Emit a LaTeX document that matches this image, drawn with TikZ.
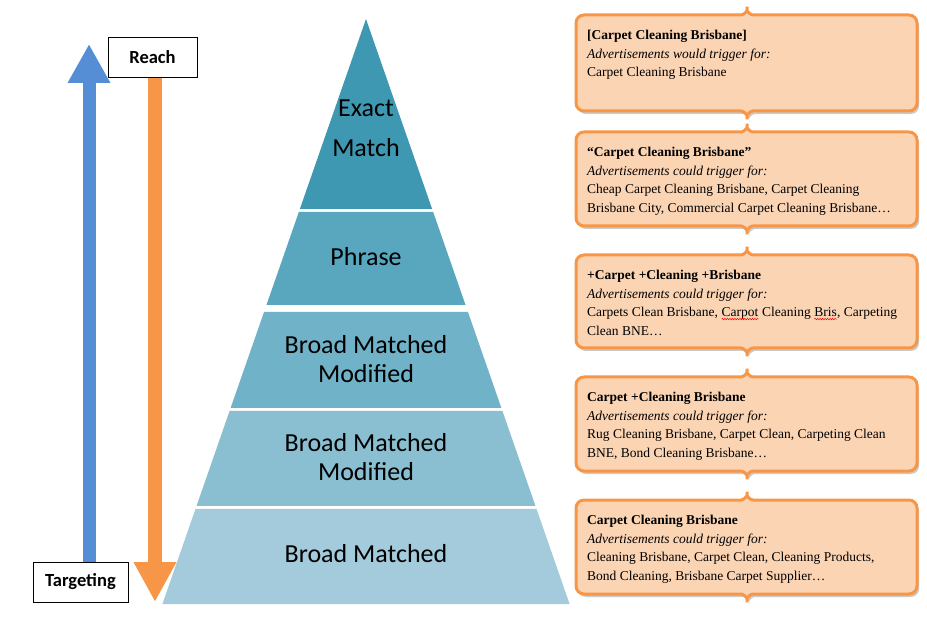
\documentclass[tikz,border=0pt]{standalone}
\usepackage{fontspec}
\setmainfont{Liberation Serif}
\newfontfamily\labelfont{Carlito}
\usetikzlibrary{arrows.meta,calc,shadows,backgrounds,decorations.pathmorphing}

\definecolor{lvlone}{HTML}{3F98B1}
\definecolor{lvltwo}{HTML}{58A7BF}
\definecolor{lvlthree}{HTML}{70B3C9}
\definecolor{lvlfour}{HTML}{8ABFD1}
\definecolor{lvlfive}{HTML}{A4CBDB}
\definecolor{boxline}{HTML}{F79646}
\definecolor{boxfill}{HTML}{FBD4B4}
\definecolor{reachblue}{HTML}{558ED5}

% red spell-check squiggle under a word
\newcommand\spellerr[1]{\tikz[baseline=(sw.base)]{\node[inner sep=0pt, outer sep=0pt, anchor=base] (sw) at (0,0) {#1};
  \draw[red, line width=0.5pt, decorate, decoration={snake, amplitude=0.7pt, segment length=2.5pt}]
    ([yshift=-2.5pt]sw.base west) -- ([yshift=-2.5pt]sw.base east);}}

\tikzset{
  layer/.style={fill=#1, draw=none},
  kwbox/.style={draw=boxline, line width=3pt, fill=boxfill, rounded corners=8pt,
    drop shadow={shadow xshift=2pt, shadow yshift=-3pt, opacity=0.35, fill=black!60}},
  kwtext/.style={anchor=north west, inner sep=0pt, align=left,
    font=\fontsize{13.5}{18.5}\selectfont},
  lbl/.style={font=\labelfont\fontsize{26}{29}\selectfont, align=center, inner sep=0pt},
  tag/.style={draw, thin, fill=white, inner sep=0pt, minimum height=40pt,
    font=\labelfont\bfseries\fontsize{18.5}{22}\selectfont},
}

\begin{document}
\begin{tikzpicture}[x=1pt, y=-1pt]
  \useasboundingbox (0,0) rectangle (927,620);
  % pyramid
  \coordinate (apex) at (366,19);
  \coordinate (bl) at (162.4,604);
  \coordinate (br) at (569.6,604);
  \foreach \t/\b/\c in {19/209/lvlone, 212/305/lvltwo, 312/408/lvlthree, 411/506/lvlfour, 509/604/lvlfive} {
    \pgfmathsetmacro\ft{(\t-19)/585}
    \pgfmathsetmacro\fb{(\b-19)/585}
    \fill[layer=\c] ($(apex)!\ft!(bl)$) -- ($(apex)!\fb!(bl)$) -- ($(apex)!\fb!(br)$) -- ($(apex)!\ft!(br)$) -- cycle;
  }
  \node[lbl, font=\labelfont\fontsize{26}{40}\selectfont] (exact) at (366,128) {Exact\\Match};
  \node[lbl] (phrase) at (366,257) {Phrase};
  \node[lbl] (bmm1) at (366,359) {Broad Matched\\Modified};
  \node[lbl] (bmm2) at (366,457) {Broad Matched\\Modified};
  \node[lbl] (broad) at (366,554) {Broad Matched};

  % reach / targeting
  \node[tag, minimum width=89pt] (reach) at (152.5,57) {Reach};
  \node[tag, minimum width=95pt] (target) at (80.5,582) {Targeting};
  \coordinate (bluetip) at (89,44);
  \coordinate (orangetip) at (155,602);
  \begin{scope}[on background layer]
    \draw[reachblue, line width=13pt, -{Triangle[length=39pt, width=40pt]}] (target.north -| bluetip) -- (bluetip);
    \draw[boxline, line width=14pt, -{Triangle[length=40pt, width=40pt]}] (reach.south -| orangetip) -- (orangetip);
  \end{scope}

  % keyword boxes
  \foreach \T/\B in {15/111, 132/226, 255/348, 377/471, 500/594} {
    \draw[kwbox] (576,{(\T+\B)/2}) -- (576,\T) -- (733,\T)
      .. controls (743,\T) and (747,\T-3) .. (747,\T-13)
      .. controls (747,\T-3) and (751,\T) .. (761,\T)
      -- (917,\T) -- (917,\B) -- (761,\B)
      .. controls (751,\B) and (747,\B+3) .. (747,\B+13)
      .. controls (747,\B+3) and (743,\B) .. (733,\B)
      -- (576,\B) -- cycle;
  }
  \node[kwtext] (kw1) at (587,30) {\textbf{[Carpet Cleaning Brisbane]}\\
    \textit{Advertisements would trigger for:}\\
    Carpet Cleaning Brisbane};
  \node[kwtext] (kw2) at (587,147) {\textbf{“Carpet Cleaning Brisbane”}\\
    \textit{Advertisements could trigger for:}\\
    Cheap Carpet Cleaning Brisbane, Carpet Cleaning\\
    Brisbane City, Commercial Carpet Cleaning Brisbane…};
  \node[kwtext] (kw3) at (587,270) {\textbf{+Carpet +Cleaning +Brisbane}\\
    \textit{Advertisements could trigger for:}\\
    Carpets Clean Brisbane, \spellerr{Carpot} Cleaning \spellerr{Bris}, Carpeting\\
    Clean BNE…};
  \node[kwtext] (kw4) at (587,392) {\textbf{Carpet +Cleaning Brisbane}\\
    \textit{Advertisements could trigger for:}\\
    Rug Cleaning Brisbane, Carpet Clean, Carpeting Clean\\
    BNE, Bond Cleaning Brisbane…};
  \node[kwtext] (kw5) at (587,515) {\textbf{Carpet Cleaning Brisbane}\\
    \textit{Advertisements could trigger for:}\\
    Cleaning Brisbane, Carpet Clean, Cleaning Products,\\
    Bond Cleaning, Brisbane Carpet Supplier…};
\end{tikzpicture}
\end{document}
